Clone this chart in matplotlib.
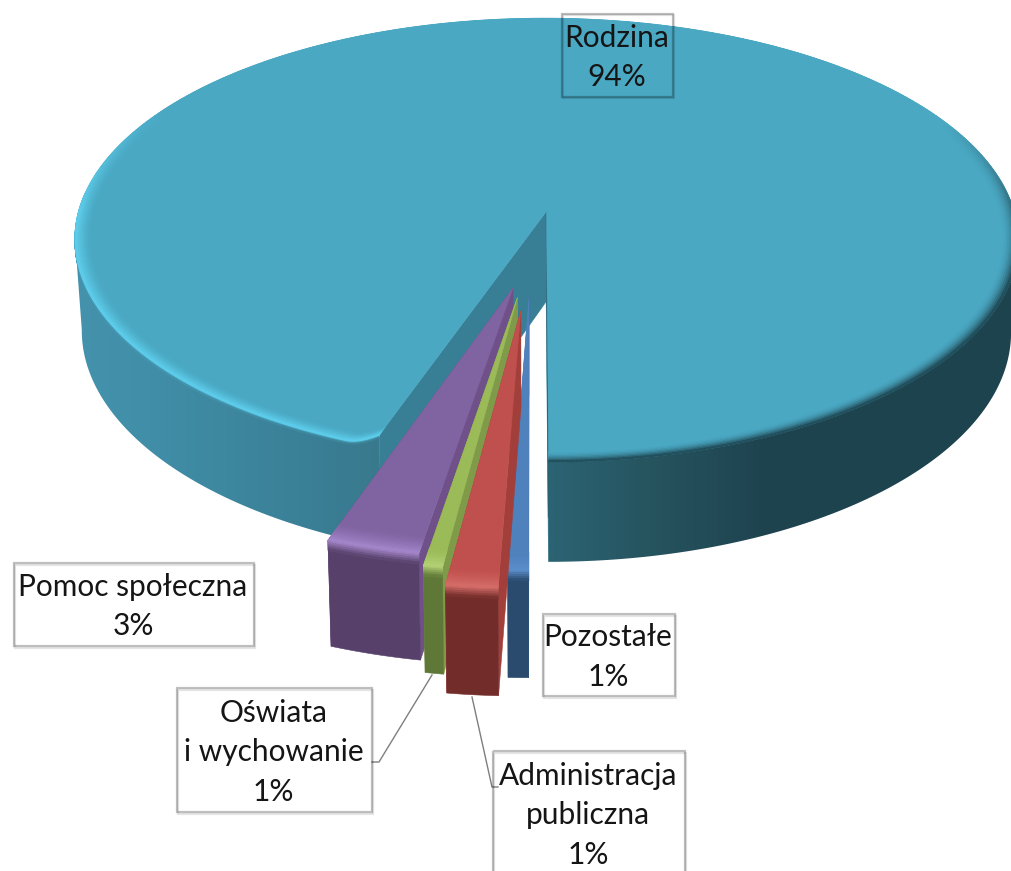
import numpy as np
import matplotlib
matplotlib.use("Agg")
import matplotlib.pyplot as plt
from matplotlib.collections import PolyCollection
from matplotlib.colors import to_rgb
from matplotlib.patches import Polygon, Rectangle

# ---- data (clockwise from 6 o'clock) ----
categories = ["Pozostałe", "Administracja\npubliczna", "Oświata\ni wychowanie", "Pomoc społeczna", "Rodzina"]
values = [0.6, 1.5, 0.55, 2.75, 94.6]
percent_labels = ["1%", "1%", "1%", "3%", "94%"]
explode = [0.18, 0.235, 0.18, 0.145, 0.20]
outer_radius = [0.98, 0.98, 0.98, 0.98, 1.0]
wall_height = [1.03, 1.03, 1.03, 1.03, 1.0]
top_colors = ["#4f81bd", "#c0504d", "#9bbb59", "#8064a2", "#4aa8c3"]
radial_colors = ["#4872a6", "#a23f3b", "#7f9a48", "#6f5088", "#387f96"]
front_colors = ["#2a4a6e", "#722c2a", "#5f7837", "#574069", "#3f8ca6"]
rim_colors = ["#5b8fcb", "#d66e6a", "#b4d276", "#a587cc", "#5fd0ee"]
draw_order = [4, 0, 3, 2, 1]

# ---- projection ----
CX, CY, A, B, K = 530.6, 255.5, 480.0, 229.7, 0.133
SHRINK, DEPTH = 0.015, 103.0


def project(u, v, z=0.0):
    w = 1.0 / (1.0 - K * v)
    s = 1.0 - SHRINK * z
    return CX + A * u * w * s, CY + B * v * w * s + DEPTH * z * w / 1.12


def point(theta, r, e, mid):
    # theta: degrees clockwise from 6 o'clock on screen
    t, m = np.radians(theta), np.radians(mid)
    return e * -np.sin(m) + r * -np.sin(t), e * np.cos(m) + r * np.cos(t)


def mix(a, b, t):
    a, b = np.array(to_rgb(a)), np.array(to_rgb(b))
    return tuple(a + (b - a) * t)


SIDE_X = [70, 150, 300, 372, 548, 650, 760, 1015]
SIDE_C = ["#4592ac", "#418ea8", "#3a8097", "#397a8e", "#2c6474", "#26545f", "#1e4450", "#1d434e"]


def main_side_color(x):
    rgb = np.array([to_rgb(c) for c in SIDE_C])
    return tuple(np.interp(x, SIDE_X, rgb[:, i]) for i in range(3))


def main_rim(theta):
    if theta < 120:
        return "#5fd0ee", float(np.clip((120 - theta) / 30, 0, 1))
    if theta > 245:
        return "#1d434e", float(np.clip((theta - 245) / 40, 0, 1))
    return "#5fd0ee", 0.0


fig = plt.figure(figsize=(10.12, 8.71), dpi=100)
ax = fig.add_axes([0, 0, 1, 1])
plt.rcParams["font.family"] = ["Lato", "DejaVu Sans"]
ax.axis("off")

starts = np.cumsum([0] + values[:-1]) * 3.6
ends = np.cumsum(values) * 3.6
gradient = np.array([[main_side_color(x) for x in np.linspace(0, 1012, 512)]])
layer = 1.0


def next_layer():
    global layer
    layer += 1
    return layer


def add_poly(pts, color):
    ax.add_patch(Polygon(pts, closed=True, facecolor=color, edgecolor=color, lw=0.4, zorder=next_layer()))


for i in draw_order:
    t0, t1, e = starts[i], ends[i], explode[i]
    R, H = outer_radius[i], wall_height[i]
    mid = (t0 + t1) / 2
    main = categories[i] == "Rodzina"
    au, av = point(0, 0, e, mid)


    def rad(a):
        # the cut corner of the big slice is rounded off
        if main:
            return R - 0.04 * max(0.0, 1 - (a - t0) / 3.0) ** 2
        return R


    # radial faces
    for t in (t0, t1):
        ou, ov = point(t, rad(t), e, mid)
        add_poly([project(au, av), project(ou, ov), project(ou, ov, H), project(au, av, H)], radial_colors[i])
    if main:
        ou, ov = point(t0 + 360 if False else t1, 1, e, mid)
        ax.plot(*zip(project(au, av), project(ou, ov, 0.55)), color="#2a5f70", lw=1.0, zorder=next_layer())


    def wall_outline(th):
        top = [project(*point(a, rad(a), e, mid)) for a in th]
        bottom = [project(*point(a, rad(a), e, mid), H) for a in th[::-1]]
        return top + bottom


    # outer wall
    tt = np.linspace(t0, t1, max(int((t1 - t0) * 2), 16))
    if main:
        xs = np.array([project(*point(a, 1, e, mid))[0] for a in tt])
        left, right = int(np.argmin(xs)), int(np.argmax(xs))
        for th in (tt[:left + 1], tt[right:]):
            patch = Polygon(wall_outline(th), closed=True, transform=ax.transData, facecolor="none", edgecolor="none")
            ax.add_patch(patch)
            im = ax.imshow(gradient, extent=(0, 1012, 871, 0), aspect="auto", interpolation="bilinear", zorder=next_layer())
            im.set_clip_path(patch)
    else:
        add_poly(wall_outline(tt), front_colors[i])
    # soft bevel running onto the wall
    zs = np.linspace(0, 0.03 if main else 0.1, 6)
    quads, cols = [], []
    for j, (z0, z1) in enumerate(zip(zs[:-1], zs[1:])):
        f = (j + 0.5) / (len(zs) - 1)
        for a, b in zip(tt[:-1], tt[1:]):
            ua, va = point(a, rad(a), e, mid)
            ub, vb = point(b, rad(b), e, mid)
            if main:
                if a > 95:
                    continue
                cols.append(mix("#5fd0ee", main_side_color(project(ua, va)[0]), f))
            else:
                cols.append(mix(rim_colors[i], front_colors[i], f))
            quads.append([project(ua, va, z0), project(ub, vb, z0), project(ub, vb, z1), project(ua, va, z1)])
    ax.add_collection(PolyCollection(quads, facecolors=cols, edgecolors=cols, lw=0.7, zorder=next_layer()))
    # top surface
    outline = [project(au, av)] + [project(*point(a, rad(a), e, mid)) for a in tt]
    add_poly(outline, top_colors[i])
    # bevel along rim
    radii = np.linspace(0.965 if main else 0.94, 1.0, 9)
    quads, cols = [], []
    for j, (r0, r1) in enumerate(zip(radii[:-1], radii[1:])):
        f = (j + 0.5) / (len(radii) - 1)
        for a, b in zip(tt[:-1], tt[1:]):
            ra, rb = rad(a), rad(b)
            quads.append([project(*point(a, r0 * ra, e, mid)), project(*point(b, r0 * rb, e, mid)),
                          project(*point(b, r1 * rb, e, mid)), project(*point(a, r1 * ra, e, mid))])
            if main:
                rc, s = main_rim((a + b) / 2)
                cols.append(mix(top_colors[i], rc, s * (f ** 1.5 if rc != "#1d434e" else f ** 2)))
            else:
                cols.append(mix(top_colors[i], rim_colors[i], f ** 1.5))
    ax.add_collection(PolyCollection(quads, facecolors=cols, edgecolors=cols, lw=0.7, zorder=next_layer()))

ax.set_xlim(0, 1012)
ax.set_ylim(871, 0)

# ---- labels ----
label_boxes = {
    "Rodzina": (562, 14, 111, 83),
    "Pomoc społeczna": (14, 563, 240, 83),
    "Oświata\ni wychowanie": (177, 688, 195, 124),
    "Administracja\npubliczna": (493, 751, 192, 124),
    "Pozostałe": (543, 614, 132, 82),
}
for name, pct in zip(categories, percent_labels):
    x, y, w, h = label_boxes[name]
    for off, a, lw in ((1.5, 0.10, 1.6), (0, 0.25, 1.6)):
        ax.add_patch(Rectangle((x + off, y + off), w, h, fill=False, edgecolor=(0, 0, 0, a), lw=lw, zorder=200 + (off == 0)))
    ax.text(x + w / 2 - 1, y + h / 2 + 2, f"{name}\n{pct}", ha="center", va="center", fontsize=21.5,
            linespacing=1.5, color="#151515", zorder=210)

ax.plot([372, 379, 432], [762, 762, 675], color="#7f7f7f", lw=1.0, zorder=199)
ax.plot([472, 492, 498], [697, 787, 787], color="#7f7f7f", lw=1.0, zorder=199)

fig.savefig("out.png", dpi=100, facecolor="white")
